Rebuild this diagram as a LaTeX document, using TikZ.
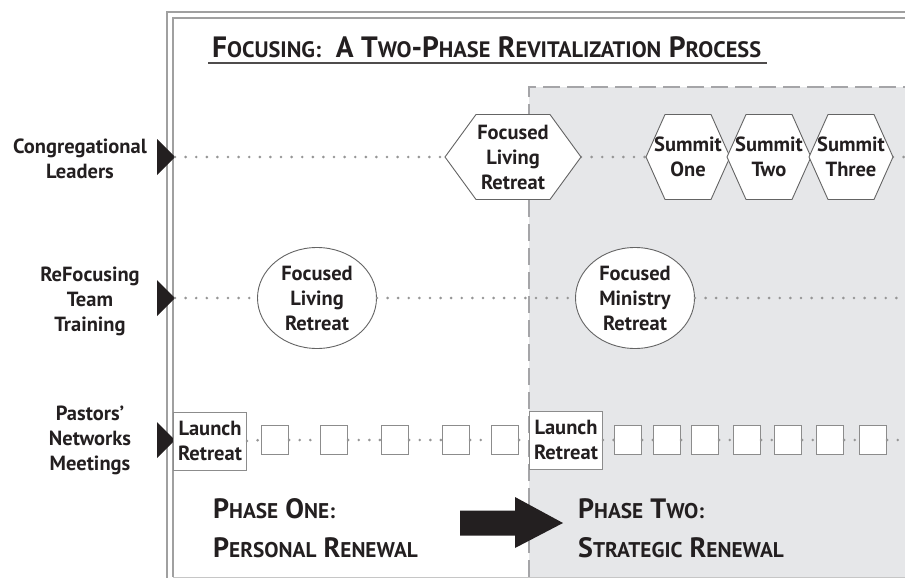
\documentclass[tikz,border=0pt]{standalone}
\usepackage{fontspec}
\setmainfont{PT Sans}
\newfontfamily\lowcaps{PT Sans}[Scale=0.76]
\usetikzlibrary{shapes.geometric, positioning, calc}

\definecolor{inkdark}{RGB}{35, 31, 32}
\definecolor{framegray}{RGB}{160, 160, 160}
\definecolor{phasegray}{RGB}{230, 231, 233}
\definecolor{dashgray}{RGB}{165, 165, 168}
\definecolor{dotgray}{RGB}{150, 150, 150}
\definecolor{edgegray}{RGB}{100, 100, 100}
\definecolor{boxgray}{RGB}{140, 140, 140}

\newcommand{\smcap}[2]{#1{\lowcaps\bfseries #2}}
\newcommand{\labelfont}{\fontsize{20.5}{25}\selectfont\bfseries}
\newcommand{\titlefont}{\fontsize{29.4}{34}\selectfont\bfseries}
\newcommand{\phasefont}{\fontsize{28}{34}\selectfont\bfseries}
% hexagon outline round a centre: half width, depth of the point
\newcommand{\hexat}[3]{%
  \draw[hexline] ($(#1)+(-#2,0)$) -- ++(#3,-42.5) -- ++({2*(#2-#3)},0)
    -- ++(#3,42.5) -- ++(-#3,42.5) -- ++({-2*(#2-#3)},0) -- cycle;}

\tikzset{
  rowlabel/.style={align=center, font=\labelfont, text=inkdark, inner sep=0pt},
  hexlabel/.style={align=center, font=\labelfont, text=inkdark, inner sep=0pt, minimum height=85pt},
  hexline/.style={draw=edgegray, fill=white, line width=0.9pt},
  retreat/.style={ellipse, draw=edgegray, fill=white, line width=0.9pt, minimum width=119pt,
    minimum height=101pt, inner sep=0pt, align=center, font=\labelfont, text=inkdark},
  launchbox/.style={draw=boxgray, fill=white, line width=1pt, minimum width=73pt,
    minimum height=58pt, inner sep=0pt, align=center, font=\labelfont, text=inkdark},
  mtgbox/.style={draw=boxgray, fill=white, line width=1.2pt, minimum width=27pt,
    minimum height=29pt, inner sep=0pt},
  dotline/.style={dotgray, line width=2.9pt, line cap=round, dash pattern=on 0pt off 10.6pt},
  leadmark/.style={fill=inkdark},
  phasetext/.style={anchor=base west, font=\phasefont, text=inkdark, inner sep=0pt},
}

\begin{document}
\begin{tikzpicture}[x=1pt, y=-1pt]
  \useasboundingbox (0,0) rectangle (905,578);

  % phase two backdrop
  \fill[phasegray] (529,87) rectangle (910,577);
  \draw[dashgray, line width=1.1pt, dash pattern=on 17pt off 7pt] (529,577) -- (529,87) -- (910,87);

  % frame
  \draw[framegray, line width=1.2pt] (167,590) -- (167,12) -- (910,12);
  \draw[framegray, line width=1.2pt] (173,577) -- (173,18) -- (910,18);
  \draw[framegray!60, line width=1pt] (173,577) -- (910,577);

  % title
  \node[anchor=base west, font=\titlefont, text=inkdark, inner sep=0pt] (title) at (212,58)
    {\smcap{F}{OCUSING:}\ \ A \smcap{T}{WO}-\smcap{P}{HASE} \smcap{R}{EVITALIZATION} \smcap{P}{ROCESS}};
  \draw[inkdark!80, line width=1.8pt] (208,63) -- (767,63);

  % row labels
  \node[rowlabel] (lblLeaders) at (80,159) {Congregational\\Leaders};
  \node[rowlabel] (lblTeam) at (90,301) {ReFocusing\\Team\\Training};
  \node[rowlabel] (lblPastors) at (90,440) {Pastors’\\Networks\\Meetings};

  \coordinate (lead1) at (175,157);
  \coordinate (lead2) at (175,298);
  \coordinate (lead3) at (175,440);
  \coordinate (end1) at (910,157);
  \coordinate (end2) at (910,298);
  \coordinate (end3) at (910,440);
  \foreach \r in {lead1, lead2, lead3}
    \fill[leadmark] (\r) -- ++(-18,-18) -- ++(0,36) -- cycle;

  % congregational leaders
  \coordinate (cFLR) at (513,157);
  \coordinate (cOne) at (688,157);
  \coordinate (cTwo) at (769,157);
  \coordinate (cThree) at (851,157);
  \draw[dotline] (lead1) -- ($(cFLR)+(-68,0)$);
  \draw[dotline] ($(cFLR)+(68,0)$) -- ($(cOne)+(-42,0)$);
  \draw[dotline] ($(cThree)+(42,0)$) -- (end1);
  \hexat{cFLR}{68}{31}
  \hexat{cOne}{42}{19}
  \hexat{cTwo}{42}{19}
  \hexat{cThree}{42}{19}
  \node[hexlabel, minimum width=136pt] (hexFLR) at (cFLR) {Focused\\Living\\Retreat};
  \node[hexlabel, minimum width=84pt] (sumOne) at (cOne) {Summit\\One};
  \node[hexlabel, minimum width=84pt] (sumTwo) at (cTwo) {Summit\\Two};
  \node[hexlabel, minimum width=84pt] (sumThree) at (cThree) {Summit\\Three};

  % refocusing team training
  \node[retreat] (ellFLR) at (317,298) {Focused\\Living\\Retreat};
  \node[retreat] (ellFMR) at (635,298) {Focused\\Ministry\\Retreat};
  \draw[dotline] (lead2) -- (ellFLR.west);
  \draw[dotline] (ellFLR.east) -- (ellFMR.west);
  \draw[dotline] (ellFMR.east) -- (end2);

  % pastors' networks meetings
  \node[launchbox] (launchA) at (210,441) {Launch\\Retreat};
  \node[launchbox] (launchB) at (566,440) {Launch\\Retreat};
  \foreach \x/\name [remember=\name as \prev (initially launchA)] in
      {275/mtgA1, 334/mtgA2, 395/mtgA3, 456/mtgA4, 505/mtgA5} {
    \node[mtgbox] (\name) at (\x,440) {};
    \draw[dotline] (\prev.east) -- (\name.west);
  }
  \draw[dotline] (mtgA5.east) -- (launchB.west);
  \foreach \x/\name [remember=\name as \prev (initially launchB)] in
      {628/mtgB1, 667/mtgB2, 705/mtgB3, 747/mtgB4, 788/mtgB5, 830/mtgB6, 873/mtgB7} {
    \node[mtgbox] (\name) at (\x,440) {};
    \draw[dotline] (\prev.east) -- (\name.west);
  }
  \draw[dotline] (mtgB7.east) -- (end3);

  % phases
  \node[phasetext] (phaseOne) at (213,518) {\smcap{P}{HASE} \smcap{O}{NE:}};
  \node[phasetext] (phaseOneSub) at (213,557) {\smcap{P}{ERSONAL} \smcap{R}{ENEWAL}};
  \node[phasetext] (phaseTwo) at (578,518) {\smcap{P}{HASE} \smcap{T}{WO:}};
  \node[phasetext] (phaseTwoSub) at (578,557) {\smcap{S}{TRATEGIC} \smcap{R}{ENEWAL}};
  \coordinate (shift) at (460,523);
  \fill[inkdark] (shift) ++(0,-12.5) -- ++(55,0) -- ++(0,-13.5) -- ++(48,26)
    -- ++(-48,25) -- ++(0,-12.5) -- ++(-55,0) -- cycle;
\end{tikzpicture}
\end{document}
